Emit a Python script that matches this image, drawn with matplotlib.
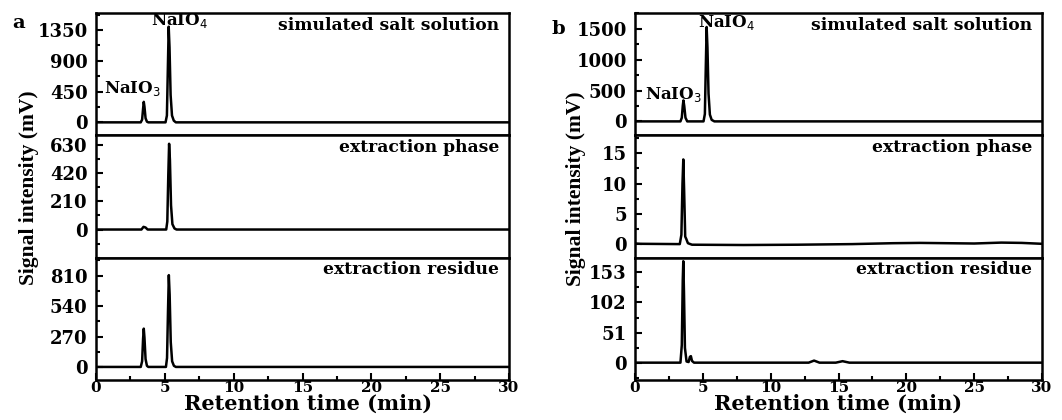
import matplotlib
matplotlib.use("Agg")
import matplotlib.pyplot as plt
from matplotlib.ticker import MultipleLocator

# ---- data (time in min, signal in mV) ----
a_sim_t = [0, 3.25, 3.35, 3.42, 3.47, 3.52, 3.6, 3.7, 3.8, 5.05, 5.15, 5.22, 5.28, 5.34, 5.42, 5.52, 5.65, 5.8, 30]
a_sim_y = [0, 0, 40, 200, 300, 230, 60, 10, 0, 0, 100, 800, 1400, 1100, 400, 100, 25, 0, 0]

a_phase_t = [0, 3.3, 3.45, 3.6, 3.75, 5.1, 5.18, 5.25, 5.31, 5.37, 5.45, 5.55, 5.7, 5.85, 30]
a_phase_y = [0, 0, 20, 15, 0, 0, 60, 400, 640, 520, 180, 40, 8, 0, 0]

a_res_t = [0, 3.25, 3.35, 3.42, 3.47, 3.52, 3.6, 3.7, 3.8, 5.08, 5.16, 5.23, 5.29, 5.35, 5.43, 5.53, 5.66, 5.8, 30]
a_res_y = [0, 0, 50, 250, 340, 260, 70, 10, 0, 0, 80, 500, 815, 640, 220, 50, 10, 0, 0]

b_sim_t = [0, 3.35, 3.45, 3.52, 3.57, 3.63, 3.72, 3.85, 5.05, 5.15, 5.22, 5.28, 5.34, 5.42, 5.52, 5.65, 5.85, 30]
b_sim_y = [0, 0, 60, 250, 340, 250, 60, 0, 0, 120, 900, 1530, 1200, 450, 110, 25, 0, 0]

b_phase_t = [0, 0.4, 3.3, 3.42, 3.5, 3.56, 3.62, 3.7, 3.78, 3.9, 4.2, 8, 12, 16, 19, 21, 23, 25, 27, 28.5, 30]
b_phase_y = [0.05, 0.0, -0.05, 1.5, 10.0, 14.0, 9.0, 1.2, 0.8, 0.1, -0.15, -0.2, -0.15, -0.05, 0.1, 0.15, 0.1, 0.05, 0.2, 0.15, 0.0]

b_res_t = [0, 3.35, 3.45, 3.52, 3.56, 3.61, 3.68, 3.8, 3.95, 4.05, 4.12, 4.2, 4.35, 12.8, 13.2, 13.6, 14.8, 15.3, 15.8, 30]
b_res_y = [0, 0, 30, 140, 172, 120, 25, 2, 1, 10, 11, 3, 0, 0, 3.5, 0, 0, 2.5, 0, 0]

traces = [
    [(a_sim_t, a_sim_y), (a_phase_t, a_phase_y), (a_res_t, a_res_y)],
    [(b_sim_t, b_sim_y), (b_phase_t, b_phase_y), (b_res_t, b_res_y)],
]
row_names = ["simulated salt solution", "extraction phase", "extraction residue"]
ylims = [
    [(-190, 1600), (-210, 703), (-116, 970)],
    [(-226, 1757), (-2.3, 18), (-29.4, 178)],
]
ysteps = [[450, 210, 270], [500, 5, 51]]
yticks_max = [[1350, 630, 810], [1500, 15, 153]]
# peak labels (x, y in data units of the top panel)
labels = [
    [("NaIO$_3$", 2.67, 500), ("NaIO$_4$", 6.07, 1490)],
    [("NaIO$_3$", 2.86, 430), ("NaIO$_4$", 6.75, 1600)],
]

ser = "DejaVu Serif"
fig = plt.figure(figsize=(10.62, 4.2), dpi=100)

lefts = [96 / 1062, 635 / 1062]
widths = [413 / 1062, 407 / 1062]
top = 1 - 13 / 420
h = (367 / 3) / 420

for p in range(2):
    for r in range(3):
        ax = fig.add_axes([lefts[p], top - (r + 1) * h, widths[p], h])
        t, y = traces[p][r]
        ax.plot(t, y, color="black", lw=1.8)
        ax.set_xlim(0, 30)
        ax.set_ylim(*ylims[p][r])
        st = ysteps[p][r]
        ax.set_yticks([k * st for k in range(int(yticks_max[p][r] / st) + 1)])
        ax.yaxis.set_minor_locator(MultipleLocator(st / 2))
        ax.xaxis.set_major_locator(MultipleLocator(5))
        ax.xaxis.set_minor_locator(MultipleLocator(2.5))
        ax.tick_params(which="both", direction="in", width=1.5)
        ax.tick_params(which="major", length=5, pad=6)
        ax.tick_params(which="minor", length=3)
        ax.tick_params(axis="x", which="both", top=False, pad=1)
        for lab in ax.get_yticklabels():
            lab.set_fontfamily(ser)
            lab.set_fontweight("bold")
            lab.set_fontsize(13)
        if r < 2:
            ax.tick_params(axis="x", which="both", bottom=False, labelbottom=False)
        else:
            for lab in ax.get_xticklabels():
                lab.set_fontfamily(ser)
                lab.set_fontweight("bold")
                lab.set_fontsize(11)
        for s in ax.spines.values():
            s.set_linewidth(1.8)
        ax.text(0.976, 0.9, row_names[r], transform=ax.transAxes, ha="right", va="center",
                fontfamily=ser, fontweight="bold", fontsize=12.3)
        if r == 0:
            for txt, lx, ly in labels[p]:
                ax.text(lx, ly, txt, ha="center", va="center", fontfamily=ser,
                        fontweight="bold", fontsize=12)

# x labels
fig.text(308 / 1062, 1 - 410 / 420, "Retention time (min)", ha="center", va="baseline",
         fontfamily=ser, fontweight="bold", fontsize=15)
fig.text(838 / 1062, 1 - 410 / 420, "Retention time (min)", ha="center", va="baseline",
         fontfamily=ser, fontweight="bold", fontsize=15)
# y labels
fig.text(29 / 1062, 1 - 188 / 420, "Signal intensity (mV)", rotation=90, ha="center", va="center",
         fontfamily="Liberation Serif", fontweight="bold", fontsize=15.5)
fig.text(576 / 1062, 1 - 189 / 420, "Signal intensity (mV)", rotation=90, ha="center", va="center",
         fontfamily="Liberation Serif", fontweight="bold", fontsize=15.5)
# panel letters
fig.text(12 / 1062, 1 - 23 / 420, "a", fontfamily=ser, fontweight="bold", fontsize=14, va="center")
fig.text(552 / 1062, 1 - 29 / 420, "b", fontfamily=ser, fontweight="bold", fontsize=14, va="center")

fig.savefig("out.png", dpi=100)
